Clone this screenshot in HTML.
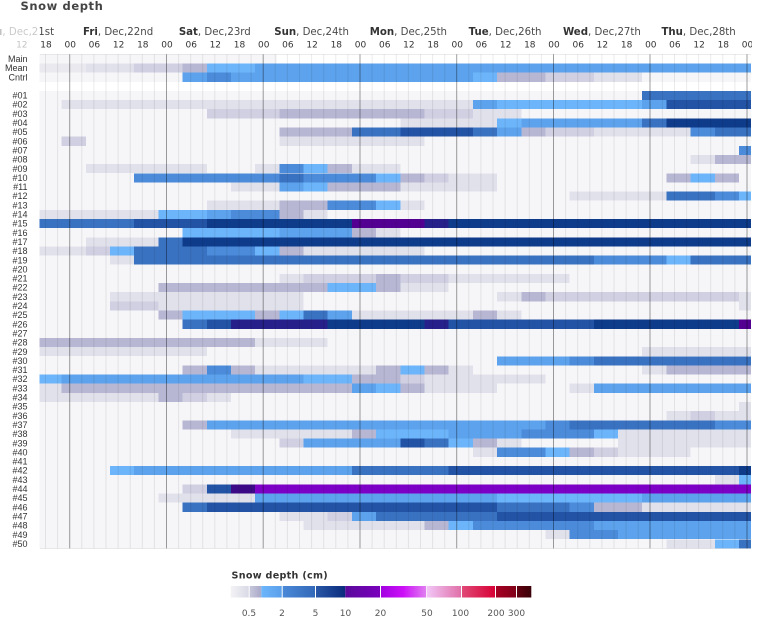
<!DOCTYPE html>
<html><head><meta charset="utf-8">
<style>
html,body{margin:0;padding:0;background:#fff;}
svg{display:block;}
.z{fill:#f6f6f8}.y{fill:#e9e9ef}.a{fill:#e1e1eb}.b{fill:#d0d0e2}.c{fill:#b7b7d3}
.d{fill:#6db5fa}.e{fill:#5da2ec}.f{fill:#4b8bd9}.g{fill:#3a72c2}.h{fill:#2253a5}
.i{fill:#0f3b8b}.j{fill:#26208a}.k{fill:#3c0a86}.p{fill:#530092}.q{fill:#7d00c6}
.rl{font-family:"Liberation Sans",Arial,sans-serif;font-size:9px;fill:#333;text-anchor:end}
.tl{font-family:"DejaVu Sans","Liberation Sans",sans-serif;font-size:9px;fill:#333;text-anchor:middle}
.dl{font-family:"DejaVu Sans","Liberation Sans",sans-serif;font-size:10.2px;fill:#4a4a4a;text-anchor:middle}
.dl tspan{font-weight:bold;fill:#333}
.gl{fill:#000;fill-opacity:0.08}
.gd{fill:#000;fill-opacity:0.38}
.ll{font-family:"DejaVu Sans","Liberation Sans",sans-serif;font-size:9px;fill:#555;text-anchor:middle}
</style></head>
<body>
<svg width="761" height="625" viewBox="0 0 761 625" xmlns="http://www.w3.org/2000/svg">
<defs>
<clipPath id="pc"><rect x="39.5" y="54.3" width="711.5" height="494.1"/></clipPath>
<clipPath id="hc"><rect x="0" y="0" width="752" height="60"/></clipPath>
<linearGradient id="g1"><stop offset="0" stop-color="#f3f3f6"/><stop offset="1" stop-color="#d9d9e6"/></linearGradient>
<linearGradient id="g2"><stop offset="0" stop-color="#c9c9dc"/><stop offset="1" stop-color="#a9a9c9"/></linearGradient>
<linearGradient id="g3"><stop offset="0" stop-color="#6cb6fc"/><stop offset="1" stop-color="#5a9eea"/></linearGradient>
<linearGradient id="g4"><stop offset="0" stop-color="#4a8ad8"/><stop offset="1" stop-color="#3368b8"/></linearGradient>
<linearGradient id="g5"><stop offset="0" stop-color="#2a58a8"/><stop offset="1" stop-color="#0b2b7c"/></linearGradient>
<linearGradient id="g6"><stop offset="0" stop-color="#5a0a9c"/><stop offset="1" stop-color="#7a00bc"/></linearGradient>
<linearGradient id="g7"><stop offset="0" stop-color="#a000e0"/><stop offset="0.5" stop-color="#cc10f8"/><stop offset="1" stop-color="#e080f0"/></linearGradient>
<linearGradient id="g8"><stop offset="0" stop-color="#f2c8f8"/><stop offset="1" stop-color="#e070a8"/></linearGradient>
<linearGradient id="g9"><stop offset="0" stop-color="#e04a78"/><stop offset="1" stop-color="#d80034"/></linearGradient>
<linearGradient id="g10"><stop offset="0" stop-color="#a80024"/><stop offset="1" stop-color="#800018"/></linearGradient>
<linearGradient id="g11"><stop offset="0" stop-color="#640010"/><stop offset="1" stop-color="#3a0008"/></linearGradient>
</defs>
<rect width="761" height="625" fill="#fff"/>

<text x="20.5" y="10" font-family="DejaVu Sans, Liberation Sans, sans-serif" font-weight="bold" font-size="11.5" letter-spacing="0.6" fill="#444">Snow depth</text>

<g clip-path="url(#hc)">
<text class="dl" x="17.5" y="35"><tspan>Thu</tspan>, Dec,21st</text>
<text class="dl" x="118.1" y="35"><tspan>Fri</tspan>, Dec,22nd</text>
<text class="dl" x="214.8" y="35"><tspan>Sat</tspan>, Dec,23rd</text>
<text class="dl" x="311.6" y="35"><tspan>Sun</tspan>, Dec,24th</text>
<text class="dl" x="408.4" y="35"><tspan>Mon</tspan>, Dec,25th</text>
<text class="dl" x="505.1" y="35"><tspan>Tue</tspan>, Dec,26th</text>
<text class="dl" x="601.9" y="35"><tspan>Wed</tspan>, Dec,27th</text>
<text class="dl" x="698.6" y="35"><tspan>Thu</tspan>, Dec,28th</text>

<text class="tl" x="21.8" y="47.7">12</text>
<text class="tl" x="46" y="47.7">18</text>
<text class="tl" x="70.2" y="47.7">00</text>
<text class="tl" x="94.4" y="47.7">06</text>
<text class="tl" x="118.6" y="47.7">12</text>
<text class="tl" x="142.8" y="47.7">18</text>
<text class="tl" x="167" y="47.7">00</text>
<text class="tl" x="191.2" y="47.7">06</text>
<text class="tl" x="215.3" y="47.7">12</text>
<text class="tl" x="239.5" y="47.7">18</text>
<text class="tl" x="263.7" y="47.7">00</text>
<text class="tl" x="287.9" y="47.7">06</text>
<text class="tl" x="312.1" y="47.7">12</text>
<text class="tl" x="336.3" y="47.7">18</text>
<text class="tl" x="360.5" y="47.7">00</text>
<text class="tl" x="384.7" y="47.7">06</text>
<text class="tl" x="408.9" y="47.7">12</text>
<text class="tl" x="433.1" y="47.7">18</text>
<text class="tl" x="457.2" y="47.7">00</text>
<text class="tl" x="481.4" y="47.7">06</text>
<text class="tl" x="505.6" y="47.7">12</text>
<text class="tl" x="529.8" y="47.7">18</text>
<text class="tl" x="554" y="47.7">00</text>
<text class="tl" x="578.2" y="47.7">06</text>
<text class="tl" x="602.4" y="47.7">12</text>
<text class="tl" x="626.6" y="47.7">18</text>
<text class="tl" x="650.8" y="47.7">00</text>
<text class="tl" x="674.9" y="47.7">06</text>
<text class="tl" x="699.1" y="47.7">12</text>
<text class="tl" x="723.3" y="47.7">18</text>
<text class="tl" x="747.5" y="47.7">00</text>
</g>
<rect x="0" y="20" width="40" height="32" fill="#fff" fill-opacity="0.7"/>

<g clip-path="url(#pc)">
<g transform="matrix(24.19 0 0 9.15 37.45 54.3)" shape-rendering="crispEdges">
<rect class="z" x="0" y="0" width="9.9" height="1"/>
<rect class="z" x="0" y="1" width="31" height="2"/>
<rect class="z" x="0" y="4" width="31" height="50"/>
<g transform="translate(0,1)"><rect class="y" x="0" width="2" height="1"/><rect class="a" x="2" width="2" height="1"/><rect class="b" x="4" width="2" height="1"/><rect class="c" x="6" width="1" height="1"/><rect class="d" x="7" width="2" height="1"/><rect class="e" x="9" width="21" height="1"/></g>
<g transform="translate(0,2)"><rect class="e" x="6" width="1" height="1"/><rect class="f" x="7" width="1" height="1"/><rect class="e" x="8" width="10" height="1"/><rect class="d" x="18" width="1" height="1"/><rect class="c" x="19" width="2" height="1"/><rect class="b" x="21" width="2" height="1"/><rect class="a" x="23" width="2" height="1"/></g>
<g transform="translate(0,4)"><rect class="g" x="25" width="5" height="1"/></g>
<g transform="translate(0,5)"><rect class="a" x="1" width="17" height="1"/><rect class="e" x="18" width="1" height="1"/><rect class="d" x="19" width="6" height="1"/><rect class="e" x="25" width="1" height="1"/><rect class="h" x="26" width="4" height="1"/></g>
<g transform="translate(0,6)"><rect class="b" x="7" width="3" height="1"/><rect class="c" x="10" width="6" height="1"/><rect class="b" x="16" width="2" height="1"/><rect class="a" x="18" width="2" height="1"/></g>
<g transform="translate(0,7)"><rect class="a" x="15" width="4" height="1"/><rect class="d" x="19" width="1" height="1"/><rect class="e" x="20" width="5" height="1"/><rect class="g" x="25" width="1" height="1"/><rect class="i" x="26" width="4" height="1"/></g>
<g transform="translate(0,8)"><rect class="c" x="10" width="3" height="1"/><rect class="g" x="13" width="2" height="1"/><rect class="h" x="15" width="3" height="1"/><rect class="g" x="18" width="1" height="1"/><rect class="e" x="19" width="1" height="1"/><rect class="c" x="20" width="1" height="1"/><rect class="b" x="21" width="2" height="1"/><rect class="a" x="23" width="4" height="1"/><rect class="f" x="27" width="1" height="1"/><rect class="g" x="28" width="2" height="1"/></g>
<g transform="translate(0,9)"><rect class="b" x="1" width="1" height="1"/><rect class="a" x="10" width="6" height="1"/></g>
<g transform="translate(0,10)"><rect class="f" x="29" width="1" height="1"/></g>
<g transform="translate(0,11)"><rect class="a" x="27" width="1" height="1"/><rect class="c" x="28" width="2" height="1"/></g>
<g transform="translate(0,12)"><rect class="a" x="2" width="5" height="1"/><rect class="a" x="9" width="1" height="1"/><rect class="f" x="10" width="1" height="1"/><rect class="d" x="11" width="1" height="1"/><rect class="c" x="12" width="1" height="1"/><rect class="a" x="13" width="2" height="1"/></g>
<g transform="translate(0,13)"><rect class="f" x="4" width="6" height="1"/><rect class="g" x="10" width="1" height="1"/><rect class="f" x="11" width="3" height="1"/><rect class="d" x="14" width="1" height="1"/><rect class="c" x="15" width="1" height="1"/><rect class="b" x="16" width="1" height="1"/><rect class="a" x="17" width="2" height="1"/><rect class="c" x="26" width="1" height="1"/><rect class="d" x="27" width="1" height="1"/><rect class="c" x="28" width="1" height="1"/></g>
<g transform="translate(0,14)"><rect class="a" x="8" width="2" height="1"/><rect class="e" x="10" width="1" height="1"/><rect class="d" x="11" width="1" height="1"/><rect class="c" x="12" width="3" height="1"/><rect class="a" x="15" width="4" height="1"/></g>
<g transform="translate(0,15)"><rect class="a" x="22" width="4" height="1"/><rect class="g" x="26" width="2" height="1"/><rect class="f" x="28" width="1" height="1"/><rect class="d" x="29" width="1" height="1"/></g>
<g transform="translate(0,16)"><rect class="a" x="7" width="3" height="1"/><rect class="c" x="10" width="2" height="1"/><rect class="f" x="12" width="2" height="1"/><rect class="d" x="14" width="1" height="1"/><rect class="a" x="15" width="1" height="1"/></g>
<g transform="translate(0,17)"><rect class="a" x="0" width="5" height="1"/><rect class="d" x="5" width="2" height="1"/><rect class="e" x="7" width="1" height="1"/><rect class="f" x="8" width="2" height="1"/><rect class="c" x="10" width="1" height="1"/><rect class="a" x="11" width="1" height="1"/></g>
<g transform="translate(0,18)"><rect class="g" x="0" width="4" height="1"/><rect class="h" x="4" width="3" height="1"/><rect class="i" x="7" width="6" height="1"/><rect class="p" x="13" width="3" height="1"/><rect class="j" x="16" width="1" height="1"/><rect class="i" x="17" width="13" height="1"/></g>
<g transform="translate(0,19)"><rect class="d" x="6" width="4" height="1"/><rect class="e" x="10" width="3" height="1"/><rect class="c" x="13" width="1" height="1"/><rect class="a" x="14" width="1" height="1"/></g>
<g transform="translate(0,20)"><rect class="a" x="2" width="3" height="1"/><rect class="g" x="5" width="1" height="1"/><rect class="i" x="6" width="24" height="1"/></g>
<g transform="translate(0,21)"><rect class="a" x="0" width="2" height="1"/><rect class="b" x="2" width="1" height="1"/><rect class="d" x="3" width="1" height="1"/><rect class="g" x="4" width="3" height="1"/><rect class="f" x="7" width="2" height="1"/><rect class="d" x="9" width="1" height="1"/><rect class="c" x="10" width="1" height="1"/><rect class="a" x="11" width="5" height="1"/></g>
<g transform="translate(0,22)"><rect class="a" x="3" width="1" height="1"/><rect class="g" x="4" width="19" height="1"/><rect class="f" x="23" width="3" height="1"/><rect class="d" x="26" width="1" height="1"/><rect class="g" x="27" width="3" height="1"/></g>
<g transform="translate(0,24)"><rect class="a" x="10" width="1" height="1"/><rect class="b" x="11" width="3" height="1"/><rect class="c" x="14" width="1" height="1"/><rect class="b" x="15" width="2" height="1"/><rect class="a" x="17" width="5" height="1"/></g>
<g transform="translate(0,25)"><rect class="c" x="5" width="7" height="1"/><rect class="d" x="12" width="2" height="1"/><rect class="c" x="14" width="1" height="1"/><rect class="a" x="15" width="2" height="1"/></g>
<g transform="translate(0,26)"><rect class="a" x="3" width="8" height="1"/><rect class="a" x="19" width="1" height="1"/><rect class="c" x="20" width="1" height="1"/><rect class="b" x="21" width="8" height="1"/><rect class="a" x="29" width="1" height="1"/></g>
<g transform="translate(0,27)"><rect class="b" x="3" width="2" height="1"/><rect class="a" x="5" width="6" height="1"/><rect class="a" x="29" width="1" height="1"/></g>
<g transform="translate(0,28)"><rect class="c" x="5" width="1" height="1"/><rect class="d" x="6" width="3" height="1"/><rect class="c" x="9" width="1" height="1"/><rect class="d" x="10" width="1" height="1"/><rect class="g" x="11" width="1" height="1"/><rect class="e" x="12" width="1" height="1"/><rect class="a" x="13" width="5" height="1"/><rect class="c" x="18" width="1" height="1"/><rect class="a" x="19" width="1" height="1"/></g>
<g transform="translate(0,29)"><rect class="g" x="6" width="1" height="1"/><rect class="h" x="7" width="1" height="1"/><rect class="j" x="8" width="4" height="1"/><rect class="i" x="12" width="4" height="1"/><rect class="j" x="16" width="1" height="1"/><rect class="h" x="17" width="6" height="1"/><rect class="i" x="23" width="6" height="1"/><rect class="p" x="29" width="1" height="1"/></g>
<g transform="translate(0,31)"><rect class="c" x="0" width="9" height="1"/><rect class="a" x="9" width="3" height="1"/></g>
<g transform="translate(0,32)"><rect class="a" x="0" width="7" height="1"/><rect class="a" x="25" width="5" height="1"/></g>
<g transform="translate(0,33)"><rect class="e" x="19" width="3" height="1"/><rect class="f" x="22" width="1" height="1"/><rect class="g" x="23" width="7" height="1"/></g>
<g transform="translate(0,34)"><rect class="c" x="6" width="1" height="1"/><rect class="f" x="7" width="1" height="1"/><rect class="c" x="8" width="1" height="1"/><rect class="a" x="9" width="5" height="1"/><rect class="c" x="14" width="1" height="1"/><rect class="d" x="15" width="1" height="1"/><rect class="c" x="16" width="1" height="1"/><rect class="a" x="17" width="1" height="1"/><rect class="a" x="25" width="1" height="1"/><rect class="c" x="26" width="4" height="1"/></g>
<g transform="translate(0,35)"><rect class="d" x="0" width="1" height="1"/><rect class="e" x="1" width="10" height="1"/><rect class="d" x="11" width="2" height="1"/><rect class="c" x="13" width="2" height="1"/><rect class="b" x="15" width="1" height="1"/><rect class="a" x="16" width="5" height="1"/></g>
<g transform="translate(0,36)"><rect class="a" x="0" width="1" height="1"/><rect class="c" x="1" width="12" height="1"/><rect class="e" x="13" width="1" height="1"/><rect class="d" x="14" width="1" height="1"/><rect class="c" x="15" width="1" height="1"/><rect class="a" x="16" width="3" height="1"/><rect class="a" x="22" width="1" height="1"/><rect class="e" x="23" width="7" height="1"/></g>
<g transform="translate(0,37)"><rect class="a" x="0" width="5" height="1"/><rect class="c" x="5" width="1" height="1"/><rect class="b" x="6" width="1" height="1"/><rect class="a" x="7" width="1" height="1"/></g>
<g transform="translate(0,38)"><rect class="a" x="29" width="1" height="1"/></g>
<g transform="translate(0,39)"><rect class="a" x="26" width="1" height="1"/><rect class="b" x="27" width="1" height="1"/><rect class="a" x="28" width="2" height="1"/></g>
<g transform="translate(0,40)"><rect class="c" x="6" width="1" height="1"/><rect class="e" x="7" width="14" height="1"/><rect class="f" x="21" width="1" height="1"/><rect class="g" x="22" width="6" height="1"/><rect class="f" x="28" width="2" height="1"/></g>
<g transform="translate(0,41)"><rect class="a" x="8" width="5" height="1"/><rect class="c" x="13" width="1" height="1"/><rect class="d" x="14" width="3" height="1"/><rect class="e" x="17" width="3" height="1"/><rect class="f" x="20" width="3" height="1"/><rect class="d" x="23" width="1" height="1"/><rect class="a" x="24" width="6" height="1"/></g>
<g transform="translate(0,42)"><rect class="b" x="10" width="1" height="1"/><rect class="e" x="11" width="4" height="1"/><rect class="h" x="15" width="1" height="1"/><rect class="g" x="16" width="1" height="1"/><rect class="d" x="17" width="1" height="1"/><rect class="c" x="18" width="1" height="1"/><rect class="a" x="19" width="1" height="1"/><rect class="a" x="24" width="6" height="1"/></g>
<g transform="translate(0,43)"><rect class="a" x="18" width="1" height="1"/><rect class="f" x="19" width="2" height="1"/><rect class="d" x="21" width="1" height="1"/><rect class="c" x="22" width="1" height="1"/><rect class="b" x="23" width="1" height="1"/><rect class="a" x="24" width="3" height="1"/></g>
<g transform="translate(0,45)"><rect class="d" x="3" width="1" height="1"/><rect class="e" x="4" width="9" height="1"/><rect class="g" x="13" width="4" height="1"/><rect class="h" x="17" width="12" height="1"/><rect class="i" x="29" width="1" height="1"/></g>
<g transform="translate(0,46)"><rect class="a" x="28" width="1" height="1"/><rect class="d" x="29" width="1" height="1"/></g>
<g transform="translate(0,47)"><rect class="b" x="6" width="1" height="1"/><rect class="h" x="7" width="1" height="1"/><rect class="k" x="8" width="1" height="1"/><rect class="q" x="9" width="21" height="1"/></g>
<g transform="translate(0,48)"><rect class="a" x="5" width="4" height="1"/><rect class="e" x="9" width="10" height="1"/><rect class="d" x="19" width="6" height="1"/><rect class="e" x="25" width="5" height="1"/></g>
<g transform="translate(0,49)"><rect class="g" x="6" width="1" height="1"/><rect class="h" x="7" width="12" height="1"/><rect class="g" x="19" width="3" height="1"/><rect class="f" x="22" width="1" height="1"/><rect class="c" x="23" width="2" height="1"/><rect class="a" x="25" width="5" height="1"/></g>
<g transform="translate(0,50)"><rect class="a" x="10" width="2" height="1"/><rect class="b" x="12" width="1" height="1"/><rect class="e" x="13" width="1" height="1"/><rect class="g" x="14" width="5" height="1"/><rect class="h" x="19" width="11" height="1"/></g>
<g transform="translate(0,51)"><rect class="a" x="11" width="5" height="1"/><rect class="c" x="16" width="1" height="1"/><rect class="d" x="17" width="1" height="1"/><rect class="f" x="18" width="5" height="1"/><rect class="e" x="23" width="7" height="1"/></g>
<g transform="translate(0,52)"><rect class="a" x="21" width="1" height="1"/><rect class="f" x="22" width="2" height="1"/><rect class="e" x="24" width="6" height="1"/></g>
<g transform="translate(0,53)"><rect class="a" x="26" width="2" height="1"/><rect class="d" x="28" width="1" height="1"/><rect class="g" x="29" width="1" height="1"/></g>
</g>

<g>
<rect class="gl" x="45" y="54" width="1" height="495"/>
<rect class="gl" x="57.1" y="54" width="1" height="495"/>
<rect class="gd" x="69.2" y="54" width="1" height="495"/>
<rect class="gl" x="81.3" y="54" width="1" height="495"/>
<rect class="gl" x="93.4" y="54" width="1" height="495"/>
<rect class="gl" x="105.5" y="54" width="1" height="495"/>
<rect class="gl" x="117.6" y="54" width="1" height="495"/>
<rect class="gl" x="129.7" y="54" width="1" height="495"/>
<rect class="gl" x="141.8" y="54" width="1" height="495"/>
<rect class="gl" x="153.9" y="54" width="1" height="495"/>
<rect class="gd" x="166" y="54" width="1" height="495"/>
<rect class="gl" x="178.1" y="54" width="1" height="495"/>
<rect class="gl" x="190.2" y="54" width="1" height="495"/>
<rect class="gl" x="202.2" y="54" width="1" height="495"/>
<rect class="gl" x="214.3" y="54" width="1" height="495"/>
<rect class="gl" x="226.4" y="54" width="1" height="495"/>
<rect class="gl" x="238.5" y="54" width="1" height="495"/>
<rect class="gl" x="250.6" y="54" width="1" height="495"/>
<rect class="gd" x="262.7" y="54" width="1" height="495"/>
<rect class="gl" x="274.8" y="54" width="1" height="495"/>
<rect class="gl" x="286.9" y="54" width="1" height="495"/>
<rect class="gl" x="299" y="54" width="1" height="495"/>
<rect class="gl" x="311.1" y="54" width="1" height="495"/>
<rect class="gl" x="323.2" y="54" width="1" height="495"/>
<rect class="gl" x="335.3" y="54" width="1" height="495"/>
<rect class="gl" x="347.4" y="54" width="1" height="495"/>
<rect class="gd" x="359.5" y="54" width="1" height="495"/>
<rect class="gl" x="371.6" y="54" width="1" height="495"/>
<rect class="gl" x="383.7" y="54" width="1" height="495"/>
<rect class="gl" x="395.8" y="54" width="1" height="495"/>
<rect class="gl" x="407.9" y="54" width="1" height="495"/>
<rect class="gl" x="420" y="54" width="1" height="495"/>
<rect class="gl" x="432.1" y="54" width="1" height="495"/>
<rect class="gl" x="444.2" y="54" width="1" height="495"/>
<rect class="gd" x="456.2" y="54" width="1" height="495"/>
<rect class="gl" x="468.3" y="54" width="1" height="495"/>
<rect class="gl" x="480.4" y="54" width="1" height="495"/>
<rect class="gl" x="492.5" y="54" width="1" height="495"/>
<rect class="gl" x="504.6" y="54" width="1" height="495"/>
<rect class="gl" x="516.7" y="54" width="1" height="495"/>
<rect class="gl" x="528.8" y="54" width="1" height="495"/>
<rect class="gl" x="540.9" y="54" width="1" height="495"/>
<rect class="gd" x="553" y="54" width="1" height="495"/>
<rect class="gl" x="565.1" y="54" width="1" height="495"/>
<rect class="gl" x="577.2" y="54" width="1" height="495"/>
<rect class="gl" x="589.3" y="54" width="1" height="495"/>
<rect class="gl" x="601.4" y="54" width="1" height="495"/>
<rect class="gl" x="613.5" y="54" width="1" height="495"/>
<rect class="gl" x="625.6" y="54" width="1" height="495"/>
<rect class="gl" x="637.7" y="54" width="1" height="495"/>
<rect class="gd" x="649.5" y="54" width="1" height="495"/>
<rect class="gl" x="661.9" y="54" width="1" height="495"/>
<rect class="gl" x="674" y="54" width="1" height="495"/>
<rect class="gl" x="686.1" y="54" width="1" height="495"/>
<rect class="gl" x="698.1" y="54" width="1" height="495"/>
<rect class="gl" x="710.2" y="54" width="1" height="495"/>
<rect class="gl" x="722.3" y="54" width="1" height="495"/>
<rect class="gl" x="734.4" y="54" width="1" height="495"/>
<rect class="gd" x="746.5" y="54" width="1" height="495"/>
</g>
</g>
<rect x="40" y="54" width="711" height="1" fill="#000" fill-opacity="0.08"/>
<rect x="40" y="548" width="711" height="1" fill="#000" fill-opacity="0.08"/>

<text class="rl" x="27.5" y="62">Main</text>
<text class="rl" x="27.5" y="71.1">Mean</text>
<text class="rl" x="27.5" y="80.3">Cntrl</text>
<text class="rl" x="27.5" y="98.6">#01</text>
<text class="rl" x="27.5" y="107.7">#02</text>
<text class="rl" x="27.5" y="116.9">#03</text>
<text class="rl" x="27.5" y="126">#04</text>
<text class="rl" x="27.5" y="135.2">#05</text>
<text class="rl" x="27.5" y="144.3">#06</text>
<text class="rl" x="27.5" y="153.5">#07</text>
<text class="rl" x="27.5" y="162.6">#08</text>
<text class="rl" x="27.5" y="171.8">#09</text>
<text class="rl" x="27.5" y="180.9">#10</text>
<text class="rl" x="27.5" y="190.1">#11</text>
<text class="rl" x="27.5" y="199.2">#12</text>
<text class="rl" x="27.5" y="208.4">#13</text>
<text class="rl" x="27.5" y="217.5">#14</text>
<text class="rl" x="27.5" y="226.7">#15</text>
<text class="rl" x="27.5" y="235.8">#16</text>
<text class="rl" x="27.5" y="245">#17</text>
<text class="rl" x="27.5" y="254.1">#18</text>
<text class="rl" x="27.5" y="263.3">#19</text>
<text class="rl" x="27.5" y="272.4">#20</text>
<text class="rl" x="27.5" y="281.6">#21</text>
<text class="rl" x="27.5" y="290.7">#22</text>
<text class="rl" x="27.5" y="299.9">#23</text>
<text class="rl" x="27.5" y="309">#24</text>
<text class="rl" x="27.5" y="318.2">#25</text>
<text class="rl" x="27.5" y="327.3">#26</text>
<text class="rl" x="27.5" y="336.5">#27</text>
<text class="rl" x="27.5" y="345.6">#28</text>
<text class="rl" x="27.5" y="354.8">#29</text>
<text class="rl" x="27.5" y="363.9">#30</text>
<text class="rl" x="27.5" y="373.1">#31</text>
<text class="rl" x="27.5" y="382.2">#32</text>
<text class="rl" x="27.5" y="391.4">#33</text>
<text class="rl" x="27.5" y="400.5">#34</text>
<text class="rl" x="27.5" y="409.7">#35</text>
<text class="rl" x="27.5" y="418.8">#36</text>
<text class="rl" x="27.5" y="428">#37</text>
<text class="rl" x="27.5" y="437.1">#38</text>
<text class="rl" x="27.5" y="446.3">#39</text>
<text class="rl" x="27.5" y="455.4">#40</text>
<text class="rl" x="27.5" y="464.6">#41</text>
<text class="rl" x="27.5" y="473.7">#42</text>
<text class="rl" x="27.5" y="482.9">#43</text>
<text class="rl" x="27.5" y="492">#44</text>
<text class="rl" x="27.5" y="501.2">#45</text>
<text class="rl" x="27.5" y="510.3">#46</text>
<text class="rl" x="27.5" y="519.5">#47</text>
<text class="rl" x="27.5" y="528.6">#48</text>
<text class="rl" x="27.5" y="537.8">#49</text>
<text class="rl" x="27.5" y="546.9">#50</text>

<text x="231.5" y="578.5" font-family="DejaVu Sans, Liberation Sans, sans-serif" font-weight="bold" font-size="9.6" letter-spacing="0.3" fill="#333">Snow depth (cm)</text>
<g>
<rect x="230.7" y="586" width="18.3" height="11.5" fill="url(#g1)"/>
<rect x="249" y="586" width="12.3" height="11.5" fill="url(#g2)"/>
<rect x="261.3" y="586" width="20.7" height="11.5" fill="url(#g3)"/>
<rect x="282" y="586" width="33.3" height="11.5" fill="url(#g4)"/>
<rect x="315.3" y="586" width="30" height="11.5" fill="url(#g5)"/>
<rect x="345.3" y="586" width="35" height="11.5" fill="url(#g6)"/>
<rect x="380.3" y="586" width="46" height="11.5" fill="url(#g7)"/>
<rect x="426.3" y="586" width="35" height="11.5" fill="url(#g8)"/>
<rect x="461.3" y="586" width="34" height="11.5" fill="url(#g9)"/>
<rect x="495.3" y="586" width="21" height="11.5" fill="url(#g10)"/>
<rect x="516.3" y="586" width="15" height="11.5" fill="url(#g11)"/>
<rect x="248.7" y="586" width="1" height="11.5" fill="#fff"/>
<rect x="281.7" y="586" width="1" height="11.5" fill="#fff"/>
<rect x="315" y="586" width="1" height="11.5" fill="#fff"/>
<rect x="380" y="586" width="1" height="11.5" fill="#fff"/>
<rect x="426" y="586" width="1" height="11.5" fill="#fff" fill-opacity="0.6"/>
<rect x="461" y="586" width="1" height="11.5" fill="#fff"/>
<rect x="495" y="586" width="1" height="11.5" fill="#fff"/>
<rect x="516" y="586" width="1" height="11.5" fill="#fff"/>
</g>
<text class="ll" x="249" y="616">0.5</text>
<text class="ll" x="282" y="616">2</text>
<text class="ll" x="315.5" y="616">5</text>
<text class="ll" x="345.5" y="616">10</text>
<text class="ll" x="380.5" y="616">20</text>
<text class="ll" x="427" y="616">50</text>
<text class="ll" x="460.5" y="616">100</text>
<text class="ll" x="496" y="616">200</text>
<text class="ll" x="516.5" y="616">300</text>
</svg>
</body></html>
